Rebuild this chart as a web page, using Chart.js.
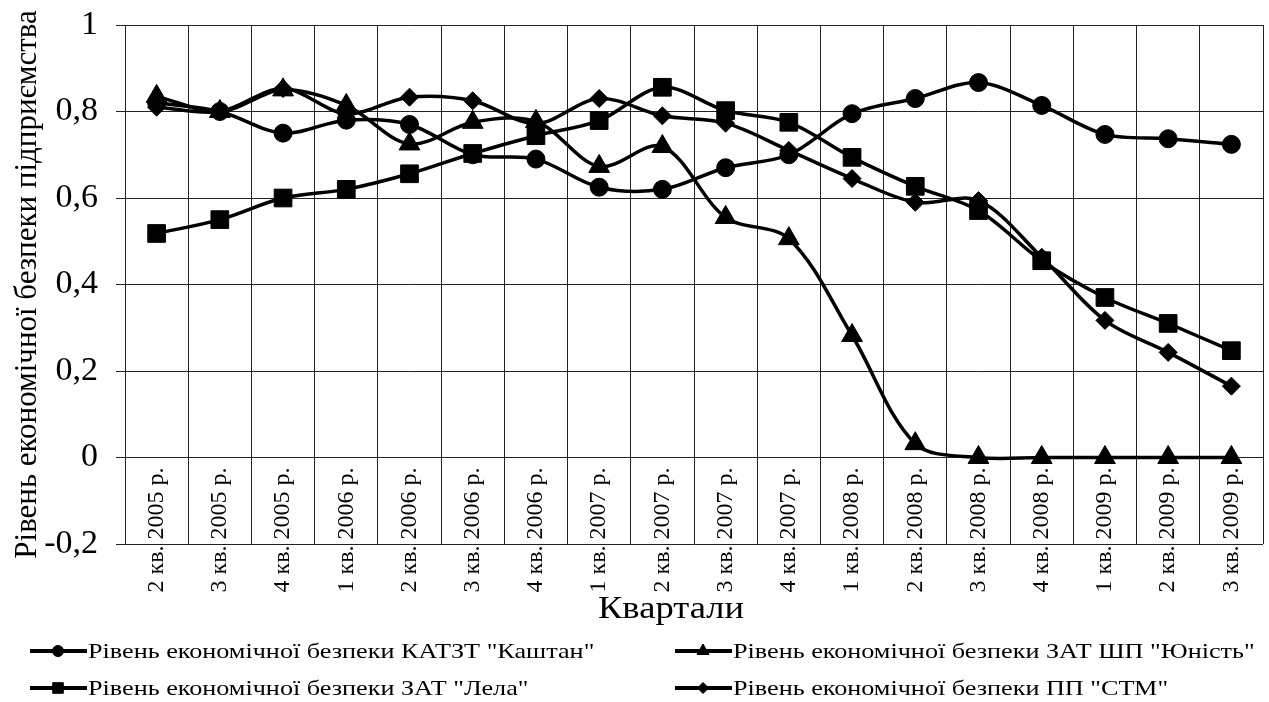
<!DOCTYPE html>
<html>
<head>
<meta charset="utf-8">
<script src="https://cdn.jsdelivr.net/npm/chart.js@4.4.0/dist/chart.umd.min.js"></script>
<style>
  html, body { margin: 0; padding: 0; background: #fff; overflow: hidden; }
  #wrap { width: 1269px; height: 702px; position: relative; }
</style>
</head>
<body>
<div id="wrap"><canvas id="chart"></canvas></div>
<script>
/* ---------- DATA ---------- */
const quarters = [
  "2 кв. 2005 р.", "3 кв. 2005 р.", "4 кв. 2005 р.",
  "1 кв. 2006 р.", "2 кв. 2006 р.", "3 кв. 2006 р.", "4 кв. 2006 р.",
  "1 кв. 2007 р.", "2 кв. 2007 р.", "3 кв. 2007 р.", "4 кв. 2007 р.",
  "1 кв. 2008 р.", "2 кв. 2008 р.", "3 кв. 2008 р.", "4 кв. 2008 р.",
  "1 кв. 2009 р.", "2 кв. 2009 р.", "3 кв. 2009 р."
];
const kashtan = [0.82, 0.80, 0.75, 0.78, 0.77, 0.70, 0.69, 0.625, 0.62, 0.67, 0.70, 0.795, 0.83, 0.867, 0.814, 0.747, 0.737, 0.724];
const yunist  = [0.835, 0.80, 0.85, 0.814, 0.725, 0.775, 0.777, 0.673, 0.719, 0.555, 0.506, 0.282, 0.032, 0, 0, 0, 0, 0];
const lela    = [0.518, 0.55, 0.60, 0.62, 0.656, 0.703, 0.744, 0.779, 0.856, 0.802, 0.775, 0.694, 0.627, 0.571, 0.455, 0.37, 0.31, 0.247];
const stm     = [0.81, 0.80, 0.853, 0.795, 0.833, 0.825, 0.772, 0.83, 0.79, 0.773, 0.71, 0.645, 0.59, 0.594, 0.463, 0.317, 0.243, 0.165];

const seriesNames = [
  'Рівень економічної безпеки КАТЗТ "Каштан"',
  'Рівень економічної безпеки ЗАТ ШП "Юність"',
  'Рівень економічної безпеки ЗАТ "Лела"',
  'Рівень економічної безпеки ПП "СТМ"'
];
const yTitle = "Рівень економічної безпеки підприємства";
const xTitle = "Квартали";

/* ---------- STYLE ---------- */
const SERIF = '"Liberation Serif", "Times New Roman", serif';
const markers = [
  { style: 'circle',   r: 9,    legendR: 5.5 },
  { style: 'triangle', r: 12,   legendR: 7 },
  { style: 'rect',     r: 12.5, legendR: 7.5 },
  { style: 'rectRot',  r: 9,    legendR: 5.5 }
];

function makeSet(label, values, m) {
  return {
    label: label,
    data: values,
    borderColor: '#000',
    backgroundColor: '#000',
    borderWidth: 3.5,
    tension: 0.33,
    pointStyle: m.style,
    pointRadius: m.r,
    pointHoverRadius: m.r,
    pointBackgroundColor: '#000',
    pointBorderColor: '#000',
    pointBorderWidth: 1,
    clip: false
  };
}

// text in the original is a bit wider than the font, stretch it sideways
function wideText(ctx, text, x, y, sx) {
  ctx.save();
  ctx.translate(x, y);
  ctx.scale(sx, 1);
  ctx.fillText(text, 0, 0);
  ctx.restore();
}

/* ---------- bottom legend + x title ---------- */
const bottomLegend = {
  id: 'bottomLegend',
  afterDraw(chart) {
    const ctx = chart.ctx;
    ctx.save();
    ctx.fillStyle = '#000';
    ctx.strokeStyle = '#000';
    ctx.textBaseline = 'middle';

    ctx.font = '31px ' + SERIF;
    ctx.textAlign = 'center';
    wideText(ctx, xTitle, 671, 610, 1.18);

    ctx.font = '22px ' + SERIF;
    ctx.textAlign = 'left';
    chart.data.datasets.forEach((ds, i) => {
      const x = [30, 675][i % 2];
      const y = [651, 688][Math.floor(i / 2)];
      ctx.lineWidth = 4;
      ctx.beginPath(); ctx.moveTo(x, y); ctx.lineTo(x + 57, y); ctx.stroke();
      ctx.lineWidth = 1;
      Chart.helpers.drawPoint(ctx, { pointStyle: markers[i].style, radius: markers[i].legendR, borderWidth: 1, rotation: 0 }, x + 28, y);
      wideText(ctx, ds.label, x + 58, y + 1, 1.19);
    });
    ctx.restore();
  }
};

/* ---------- CHART ---------- */
const ctx = document.getElementById("chart").getContext("2d");
new Chart(ctx, {
  type: 'line',
  data: {
    labels: quarters,
    datasets: [
      makeSet(seriesNames[0], kashtan, markers[0]),
      makeSet(seriesNames[1], yunist, markers[1]),
      makeSet(seriesNames[2], lela, markers[2]),
      makeSet(seriesNames[3], stm, markers[3])
    ]
  },
  options: {
    responsive: true,
    maintainAspectRatio: false,
    animation: false,
    layout: { autoPadding: false, padding: { top: 25, right: 6, bottom: 158, left: 0 } },
    plugins: {
      legend: { display: false },
      tooltip: { enabled: false }
    },
    scales: {
      x: {
        type: 'category',
        position: { y: 0 },
        offset: true,
        grid: { offset: true, color: '#222', lineWidth: 1, drawTicks: false },
        border: { display: true, color: '#222', width: 1 },
        ticks: {
          color: '#000',
          // small lineHeight keeps the rotated labels from eating the right margin
          font: { family: SERIF, size: 24, lineHeight: 0.4 },
          minRotation: 90, maxRotation: 90,
          autoSkip: false,
          padding: 10
        }
      },
      y: {
        min: -0.2, max: 1,
        afterFit(scale) { scale.width = 125; },
        grid: { color: '#222', lineWidth: 1, tickLength: 9 },
        border: { display: true, color: '#222', width: 1 },
        ticks: {
          stepSize: 0.2,
          color: '#000',
          padding: 18,
          font: { family: SERIF, size: 34, lineHeight: 0.4 },
          callback: v => String(Math.round(v * 10) / 10).replace('.', ',')
        },
        title: {
          display: true,
          text: yTitle,
          color: '#000',
          font: { family: SERIF, size: 31 },
          padding: { top: 9, bottom: 0 }
        }
      }
    }
  },
  plugins: [bottomLegend]
});
</script>
</body>
</html>
